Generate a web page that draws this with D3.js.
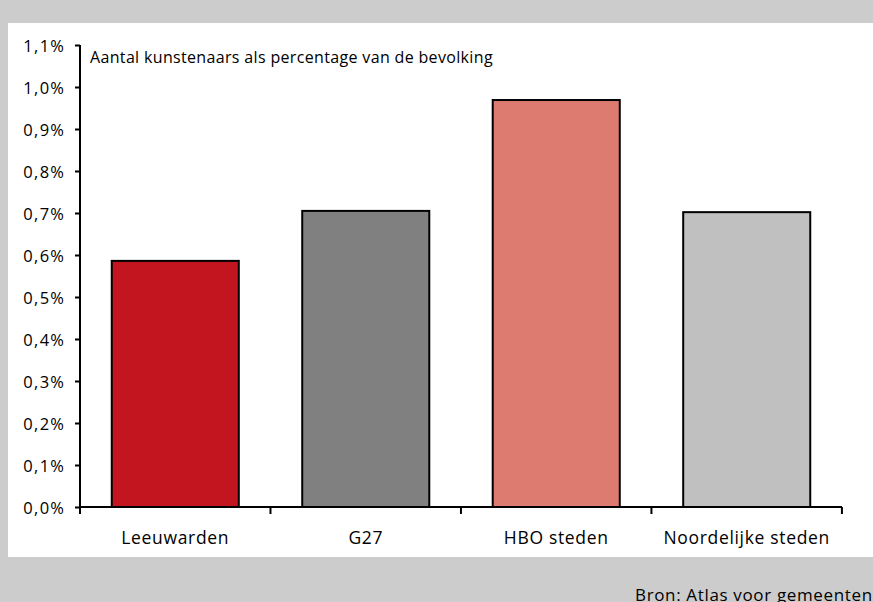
<!DOCTYPE html>
<html><head><meta charset="utf-8">
<script src="https://cdn.jsdelivr.net/npm/d3@7"></script>
<style>body{margin:0;background:#cccccc;overflow:hidden}svg{display:block}</style>
</head><body>
<svg id="c" width="873" height="602"></svg>
<script>
const categories = ["Leeuwarden", "G27", "HBO steden", "Noordelijke steden"];
const values = [0.586, 0.705, 0.969, 0.702];
const colors = ["#C2151F", "#808080", "#DD7B70", "#C0C0C0"];
const yTicks = [0,0.1,0.2,0.3,0.4,0.5,0.6,0.7,0.8,0.9,1.0,1.1];
const title = "Aantal kunstenaars als percentage van de bevolking";
const source = "Bron: Atlas voor gemeenten";

const svg = d3.select("#c");
const font = "'Open Sans', sans-serif";
svg.append("rect").attr("x",0).attr("y",0).attr("width",873).attr("height",602).attr("fill","#cccccc");
svg.append("rect").attr("x",8).attr("y",23).attr("width",865).attr("height",534).attr("fill","#ffffff");

const x = d3.scaleBand().domain(categories).range([80,842]).paddingInner(0.333).paddingOuter(0.1667);
const y = d3.scaleLinear().domain([0,1.1]).range([507,45]);

svg.selectAll(".bar").data(categories).enter().append("rect")
  .attr("x", d=>x(d)).attr("width", x.bandwidth())
  .attr("y", (d,i)=>y(values[i])).attr("height",(d,i)=>y(0)-y(values[i]))
  .attr("fill",(d,i)=>colors[i]).attr("stroke","#000").attr("stroke-width",2);

const yAxis = svg.append("g").attr("transform","translate(80,0)")
  .call(d3.axisLeft(y).tickValues(yTicks).tickSize(5).tickPadding(9.7)
    .tickFormat(d=>d3.format(".1f")(d).replace(".",",")+"%"));
yAxis.select(".domain").attr("stroke","#000").attr("stroke-width",2).attr("d","M0,45V507");
yAxis.selectAll(".tick line").attr("stroke","#000").attr("stroke-width",2);
yAxis.selectAll("text").attr("font-family",font).attr("font-size",16.5).attr("letter-spacing",1.3)
  .attr("dy","0.42em").attr("fill","#000");

const step = x.step();
const bounds = [0,1,2,3,4].map(i=>80+i*step);
const xg = svg.append("g");
xg.append("line").attr("x1",80).attr("x2",842).attr("y1",507).attr("y2",507).attr("stroke","#000").attr("stroke-width",2);
xg.selectAll(".xt").data(bounds).enter().append("line")
  .attr("x1",d=>d).attr("x2",d=>d).attr("y1",507).attr("y2",514).attr("stroke","#000").attr("stroke-width",2);
xg.selectAll(".xl").data(categories).enter().append("text")
  .attr("x",d=>x(d)+x.bandwidth()/2).attr("y",544).attr("text-anchor","middle")
  .attr("font-family",font).attr("font-size",17.5).attr("letter-spacing",0.67).text(d=>d);

svg.append("text").attr("x",90).attr("y",63.3).attr("font-family",font).attr("font-size",16)
  .attr("letter-spacing",0.34).text(title);
svg.append("text").attr("x",635).attr("y",600.7).attr("font-family",font).attr("font-size",17)
  .attr("letter-spacing",0.65).text(source);
</script>
</body></html>
